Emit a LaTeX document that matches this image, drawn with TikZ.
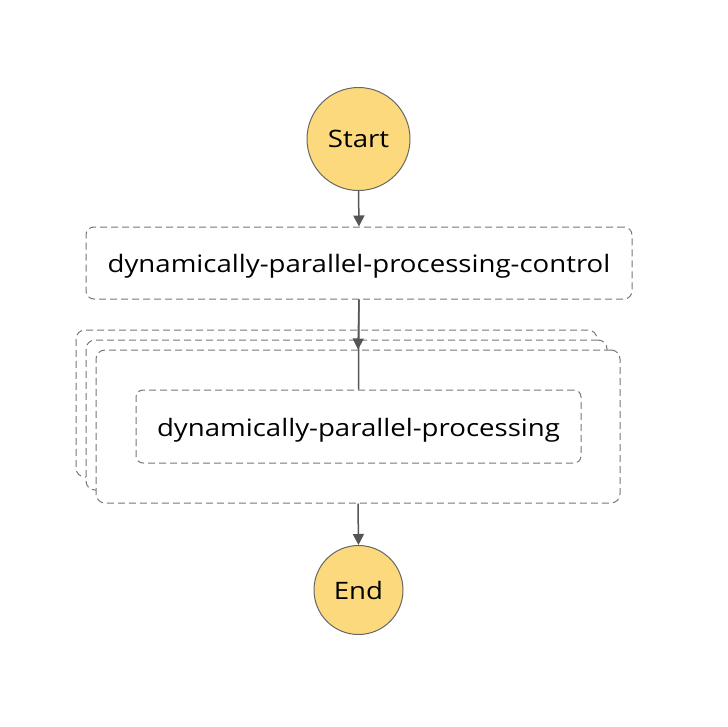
\documentclass[tikz,border=0pt]{standalone}
\usepackage{fontspec}
\setmainfont{Open Sans}[FakeStretch=1.15]
\usetikzlibrary{arrows.meta}
\definecolor{stfill}{HTML}{FDD97D}
\definecolor{stline}{HTML}{666666}
\definecolor{dashc}{HTML}{777777}
\definecolor{arrc}{HTML}{555555}
\tikzset{
  term/.style={circle, draw=stline, fill=stfill, line width=1pt, inner sep=0pt, font=\fontsize{24}{28}\selectfont},
  taskbox/.style={rectangle, rounded corners=8pt, draw=dashc, fill=white, line width=1pt, dash pattern=on 7pt off 4pt, inner sep=0pt, text height=19pt, text depth=0pt, font=\fontsize{24}{28}\selectfont},
  mapbox/.style={rectangle, rounded corners=9pt, draw=dashc, fill=white, line width=1pt, dash pattern=on 7pt off 4pt, inner sep=0pt},
  flow/.style={draw=arrc, line width=1.5pt, -{Triangle[width=11pt,length=11pt]}},
  plain/.style={draw=arrc, line width=1.5pt}
}
\begin{document}
\begin{tikzpicture}[x=1pt,y=-1pt]
\useasboundingbox (0,0) rectangle (728,726);
\node[term, minimum size=103pt] (start) at (358.5,139) {Start};
\node[term, minimum size=89pt] (end) at (358.5,590) {End};
\node[taskbox, minimum width=546pt, minimum height=72pt] (ctrl) at (359,263) {dynamically-parallel-processing-control};
\node[mapbox, minimum width=521pt, minimum height=147pt] (back) at (336.5,403.5) {};
\node[mapbox, minimum width=521pt, minimum height=150pt] (mid) at (346.5,415) {};
\node[mapbox, minimum width=524pt, minimum height=153pt] (front) at (358,426.5) {};
\node[taskbox, rounded corners=7pt, minimum width=445pt, minimum height=73pt] (inner) at (358.5,426.5) {dynamically-parallel-processing};
\draw[flow] (start.south) -- (ctrl.north);
\draw[plain] (ctrl.south) -- (inner.north);
\draw[flow] (ctrl.south) -- (front.north);
\draw[flow] (front.south) -- (end.north);
\end{tikzpicture}
\end{document}
